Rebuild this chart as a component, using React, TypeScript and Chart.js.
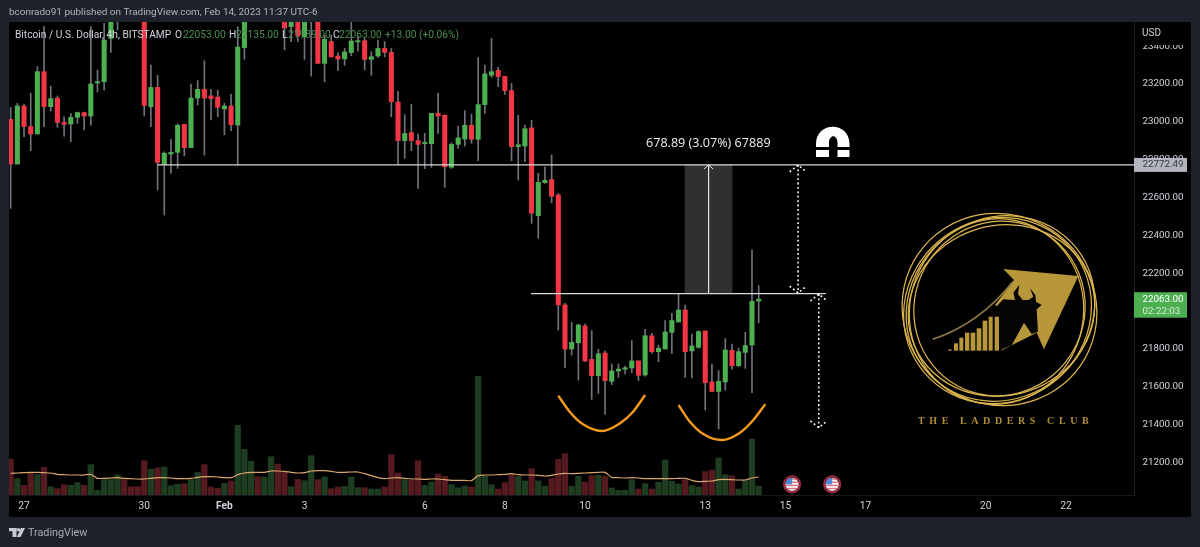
import React, { useEffect, useRef } from "react";
import { Chart, registerables } from "chart.js";

Chart.register(...registerables);

const FONT = 'Roboto, "Noto Sans", sans-serif';

const opens = [23013,22777,23084,22975,22936,23265,23080,23126,22997,22989,23024,23049,23031,23205,23212,23441,23570,23700,23620,23680,23620,23080,23182,22776,22830,22839,22987,22864,23126,23172,23137,23131,23068,23084,22983,23392,23590,23700,23640,23690,23800,23680,23503,23600,23450,23560,23700,23309,23424,23348,23332,23366,23422,23429,23330,23348,23388,23367,23105,22901,22943,22901,22885,22885,23045,23035,22760,22881,22909,22982,22908,23091,23246,23272,23241,23165,22869,22872,22968,22504,22679,22695,22614,22033,21800,21833,21922,21745,21659,21779,21629,21684,21693,21700,21737,21663,21870,21786,21800,21888,21943,22006,21790,21809,21895,21626,21576,21626,21793,21712,21782,21821,22053];
const highs = [23077,23098,23094,23151,23292,23503,23189,23137,23027,23045,23052,23052,23503,23274,23521,23626,23640,23750,23660,23710,23650,23300,23246,22842,22908,22989,22987,23200,23218,23323,23172,23168,23098,23145,23503,23630,23720,23720,23730,23830,23840,23710,23630,23630,23670,23740,23730,23459,23459,23365,23388,23538,23454,23441,23371,23432,23424,23388,23161,23038,23093,22936,22939,23045,23151,23035,22890,22978,23059,23041,23339,23300,23441,23288,23241,23203,23035,22983,23008,22728,22763,22825,22622,22041,21941,21932,21932,21897,21798,21791,21721,21721,21710,21844,21737,21904,21883,21821,21950,21988,22091,22032,21879,21897,21895,21721,21686,21855,21826,21804,21888,22323,22135];
const lows = [22543,22777,22922,22848,22936,22975,23057,22971,22925,22895,22992,22957,22982,23158,23168,23367,23485,23590,23560,23590,23031,22975,22640,22508,22728,22754,22820,22864,23089,22825,23010,23027,22931,22953,22772,23330,23560,23600,23600,23650,23600,23380,23424,23424,23330,23242,23309,23212,23343,23270,23299,23350,23374,23274,23246,23341,23344,23027,22772,22807,22848,22649,22753,22760,22939,22654,22754,22860,22872,22887,22795,23045,23235,23186,23145,22795,22693,22790,22464,22385,22675,22573,21900,21701,21768,21636,21733,21534,21566,21455,21612,21650,21668,21675,21633,21657,21777,21733,21800,21777,21943,21650,21647,21804,21478,21573,21377,21583,21693,21707,21698,21569,21939];
const closes = [22777,23084,22975,22936,23265,23080,23123,22997,22987,23024,23049,23031,23200,23212,23432,23591,23610,23620,23590,23620,23087,23182,22786,22834,22839,22982,22864,23126,23172,23126,23123,23077,23084,22985,23395,23591,23700,23640,23690,23800,23680,23496,23600,23454,23640,23700,23309,23436,23343,23332,23369,23427,23429,23330,23344,23388,23367,23107,22901,22939,22901,22881,22892,23045,23031,22763,22881,22915,22982,22908,23091,23253,23265,23239,23165,22869,22879,22964,22518,22681,22691,22607,22033,21800,21835,21927,21737,21659,21775,21633,21684,21694,21701,21737,21661,21870,21786,21804,21890,21950,22006,21786,21816,21892,21622,21576,21629,21795,21712,21786,21818,22052,22063];
const volumes = [108,49,29,68,61,83,25,19,31,29,37,29,91,14,46,46,60,46,25,25,103,77,81,84,28,32,34,46,68,91,24,20,35,42,209,137,101,55,54,115,93,68,25,47,43,118,46,54,19,24,26,54,22,22,18,18,24,121,66,46,44,103,29,39,63,56,31,22,27,24,356,56,31,18,37,61,56,42,79,42,26,49,107,124,26,56,39,58,59,56,21,14,14,46,18,34,18,38,105,41,33,46,28,24,70,75,111,61,58,18,43,168,26];
const volumeAverage = [65,66,67,68,68,67,66,62,61,60,60,60,62,50,50,51,52,50,49,48,48,50,52,52,51,49,49,50,53,55,55,54,52,52,61,66,68,68,68,72,72,71,68,66,67,72,73,73,71,68,68,69,69,64,58,52,49,51,52,50,48,48,47,48,48,46,44,44,44,43,58,60,60,61,62,64,61,60,60,59,57,59,63,65,64,65,66,67,68,68,53,52,51,52,51,49,49,49,49,49,50,50,44,40,41,42,46,47,46,45,45,51,54];

const priceTicks = [21200,21400,21600,21800,22000,22200,22400,22600,22800,23000,23200,23400];
const dayTickIndex = [2,20,32,44,62,74,86,104,116,128,146,158];
const dayTickLabels = ["27","30","Feb","3","6","8","10","13","15","17","20","22"];

const resistance = 22772.49;
const neckline = 22093;
const resistanceSpan = [22, 168.5];
const necklineSpan = [77.9, 122.05];
const measureIndex = 104.5;
const upperDottedIndex = 117.9;
const upperDottedEnds = [22772, 22096];
const lowerDottedIndex = 121;
const lowerDottedEnds = [22090, 21384];
const leftCupIndex = [82,83.7,85.7,88.5,91.2,93.2,95];
const leftCupPrice = [21553,21469,21402,21367,21407,21469,21557];
const rightCupIndex = [100,101.7,103.7,106.5,109.2,111.2,113];
const rightCupPrice = [21504,21416,21351,21319,21358,21425,21509];
const eventIndex = [117, 123];

const UP = "#4caf50";
const DOWN = "#f23645";
const UP_VOL = "#1e3d20";
const DOWN_VOL = "#551a20";

const idx = opens.map((_, i) => i);
const isUp = idx.map((i) => closes[i] >= opens[i]);

const pts = (xs: number[], ys: number[]) => xs.map((x, i) => ({ x, y: ys[i] }));

function vHead(x: number, tip: number, dir: number, halfWidth = 1.25, drop = 36) {
  return [
    { x: x - halfWidth, y: tip - dir * drop },
    { x, y: tip },
    { x: x + halfWidth, y: tip - dir * drop },
  ];
}

function lineDs(data: any[], color: string, width: number, order: number, extra: any = {}) {
  return {
    type: "line",
    data,
    borderColor: color,
    borderWidth: width,
    pointRadius: 0,
    order,
    xAxisID: "x",
    yAxisID: "y",
    ...extra,
  };
}

function drawFlag(ctx: CanvasRenderingContext2D, cx: number, cy: number) {
  ctx.save();
  ctx.beginPath();
  ctx.arc(cx, cy, 9, 0, Math.PI * 2);
  ctx.fillStyle = "#a92c43";
  ctx.fill();
  ctx.beginPath();
  ctx.arc(cx, cy, 7.2, 0, Math.PI * 2);
  ctx.fillStyle = "#2b1b22";
  ctx.fill();
  ctx.beginPath();
  ctx.arc(cx, cy, 6.6, 0, Math.PI * 2);
  ctx.clip();
  ctx.fillStyle = "#f4f4f6";
  ctx.fillRect(cx - 7, cy - 7, 14, 14);
  ctx.fillStyle = "#e2707e";
  for (let k = 0; k < 4; k++) ctx.fillRect(cx - 7, cy - 6 + k * 3.2, 14, 1.4);
  ctx.fillStyle = "#4a86d8";
  ctx.fillRect(cx - 7, cy - 7, 7, 7);
  ctx.restore();
}

function drawLogo(ctx: CanvasRenderingContext2D) {
  const cx = 999.5;
  const cy = 309.5;
  ctx.save();
  const rings = [
    [0, 0, 98.5, 95, 0.6],
    [-2, 1, 96, 91, -0.7],
    [1, -1, 90, 97, 0.9],
    [-3, 2, 87, 93, 0.2],
    [2, 1, 94, 85, -0.3],
    [0, -1, 85, 88, 0.5],
  ];
  ctx.strokeStyle = "#dcb44e";
  ctx.lineWidth = 1.25;
  for (const [dx, dy, rx, ry, rot] of rings) {
    ctx.beginPath();
    ctx.ellipse(cx + dx, cy + dy, rx, ry, rot, 0, Math.PI * 2);
    ctx.stroke();
  }
  const z = (a: number, b: number): [number, number] => [880 + a / 3, 190 + b / 3];
  const poly = (p: [number, number][], fill: string) => {
    ctx.beginPath();
    p.forEach(([a, b], i) => {
      const [x, y] = z(a, b);
      if (i) ctx.lineTo(x, y);
      else ctx.moveTo(x, y);
    });
    ctx.closePath();
    ctx.fillStyle = fill;
    ctx.fill();
  };
  const gold = "#b8963a";
  poly([[370,237],[595,258],[492,478],[470,428],[362,482],[420,390],[345,345],[402,270]], gold);
  ctx.beginPath();
  ctx.moveTo(...z(158, 448));
  ctx.quadraticCurveTo(...z(300, 400), ...z(398, 275));
  ctx.lineWidth = 1.6;
  ctx.strokeStyle = "#8f7a45";
  ctx.stroke();
  poly([[335,365],[370,328],[405,330],[400,308],[418,284],[414,312],[428,330],[446,330],[460,320],[450,295],[466,315],[468,335],[485,345],[470,358],[474,425],[455,432],[432,398],[395,466],[360,480],[340,480]], "#050505");
  const bars: [number, number, number][] = [[205,215,478],[222,234,460],[238,250,443],[255,268,428],[272,286,428],[290,304,415],[308,322,392],[326,338,380],[344,357,380]];
  ctx.fillStyle = gold;
  for (const [a, b, top] of bars) {
    const [x1, y1] = z(a, top);
    const [x2, y2] = z(b, 482);
    ctx.fillRect(x1, y1, x2 - x1, y2 - y1);
  }
  ctx.fillStyle = "#b08e3a";
  ctx.font = 'bold 10px "Liberation Serif", serif';
  ctx.textAlign = "left";
  ctx.textBaseline = "middle";
  (ctx as any).letterSpacing = "4.6px";
  ctx.fillText("THE LADDERS CLUB", 918, 421);
  (ctx as any).letterSpacing = "0px";
  ctx.restore();
}

function drawMagnet(ctx: CanvasRenderingContext2D) {
  ctx.save();
  ctx.fillStyle = "#ffffff";
  ctx.beginPath();
  ctx.moveTo(816, 147);
  ctx.lineTo(816, 144);
  ctx.bezierCurveTo(816, 121, 849.5, 121, 849.5, 144);
  ctx.lineTo(849.5, 147);
  ctx.lineTo(837.5, 147);
  ctx.lineTo(837.5, 143);
  ctx.bezierCurveTo(837.5, 134, 829, 134, 829, 143);
  ctx.lineTo(829, 147);
  ctx.closePath();
  ctx.fill();
  ctx.fillRect(816, 150, 13, 7);
  ctx.fillRect(837.5, 150, 12, 7);
  ctx.restore();
}

const overlayPlugin = {
  id: "overlay",
  beforeDraw(chart: any) {
    const { ctx, width, height } = chart;
    ctx.save();
    ctx.fillStyle = "#1e222d";
    ctx.fillRect(0, 0, width, height);
    ctx.fillStyle = "#000000";
    ctx.fillRect(9, 22, 1182, 495);
    ctx.restore();
  },
  afterDraw(chart: any) {
    const { ctx, scales } = chart;
    const py = scales.y;
    const px = scales.x;
    ctx.save();
    const text = (s: string, x: number, y: number, font: string, color: string, align = "left") => {
      ctx.font = font;
      ctx.fillStyle = color;
      ctx.textAlign = align;
      ctx.textBaseline = "middle";
      ctx.fillText(s, x, y);
    };
    text("bconrado91 published on TradingView.com, Feb 14, 2023 11:37 UTC-6", 9, 13, `9.95px ${FONT}`, "#b2b5be");
    const lf = `10.2px ${FONT}`;
    const white = "#d1d4dc";
    const green = "#4a8f50";
    text("Bitcoin / U.S. Dollar, 4h, BITSTAMP", 15, 35, lf, white);
    text("O", 175, 35, lf, white);
    text("22053.00", 183, 35, lf, green);
    text("H", 229, 35, lf, white);
    text("22135.00", 236, 35, lf, green);
    text("L", 282, 35, lf, white);
    text("21939.00", 288, 35, lf, green);
    text("C", 333, 35, lf, white);
    text("22063.00", 339, 35, lf, green);
    text("+13.00 (+0.06%)", 385, 35, lf, green);

    ctx.fillStyle = "#000000";
    ctx.fillRect(1135, 22, 56, 23);
    text("USD", 1142, 33, `10px ${FONT}`, white);
    const tf = `9.8px ${FONT}`;
    const rY = py.getPixelForValue(resistance);
    ctx.fillStyle = "#b2b5be";
    ctx.fillRect(1134, rY - 7, 53, 14);
    text(resistance.toFixed(2), 1142.5, rY, tf, "#363a45");
    const cY = py.getPixelForValue(closes[closes.length - 1]);
    ctx.fillStyle = UP;
    ctx.fillRect(1134, cY - 7, 53, 25.5);
    text(closes[closes.length - 1].toFixed(2), 1142.5, cY + 0.5, tf, "#ffffff");
    text("02:22:03", 1142.5, cY + 12, tf, "#d5ecd6");

    text("678.89 (3.07%) 67889", 646, 143, `500 12.6px "Open Sans", ${FONT}`, "#eeeeee");

    drawMagnet(ctx);
    drawLogo(ctx);
    eventIndex.forEach((i) => drawFlag(ctx, px.getPixelForValue(i), 484.3));

    ctx.fillStyle = "#c8cbd3";
    ctx.fillRect(9, 528, 7.5, 3.2);
    ctx.fillRect(12.5, 528, 4, 9);
    ctx.beginPath();
    ctx.arc(18.5, 529.7, 1.7, 0, Math.PI * 2);
    ctx.fill();
    ctx.beginPath();
    ctx.moveTo(21, 528);
    ctx.lineTo(25, 528);
    ctx.lineTo(20.5, 537);
    ctx.lineTo(16.8, 537);
    ctx.closePath();
    ctx.fill();
    text("TradingView", 28, 533, `10.8px ${FONT}`, "#a9acb5");
    ctx.restore();
  },
};

export default function App() {
  const ref = useRef<HTMLCanvasElement | null>(null);
  useEffect(() => {
    document.body.style.margin = "0";
    document.body.style.background = "#1e222d";
    if (!ref.current) return;
    const dotted = { borderDash: [1.8, 2.6] };
    const datasets: any[] = [
      {
        data: idx.map((i) => ({ x: i, y: volumes[i] })),
        backgroundColor: idx.map((i) => (isUp[i] ? UP_VOL : DOWN_VOL)),
        barThickness: 5.6,
        grouped: false,
        yAxisID: "yVol",
        xAxisID: "x",
        order: 12,
      },
      lineDs(idx.map((i) => ({ x: i, y: volumeAverage[i] })), "#d9a66c", 1.2, 11, { yAxisID: "yVol", tension: 0.2 }),
      {
        data: [{ x: measureIndex, y: [neckline, resistance] }],
        backgroundColor: "#303030",
        barThickness: 47,
        grouped: false,
        yAxisID: "y",
        xAxisID: "x",
        order: 10,
      },
      {
        data: idx.map((i) => ({ x: i, y: [lows[i], highs[i]] })),
        backgroundColor: "#70737c",
        barThickness: 1,
        grouped: false,
        yAxisID: "y",
        xAxisID: "x",
        order: 9,
      },
      {
        data: idx.map((i) => ({ x: i, y: [opens[i], closes[i]] })),
        backgroundColor: idx.map((i) => (isUp[i] ? UP : DOWN)),
        barThickness: 4.4,
        grouped: false,
        yAxisID: "y",
        xAxisID: "x",
        order: 8,
      },
      lineDs(pts(resistanceSpan, [resistance, resistance]), "#d8d8d8", 1.3, 6),
      lineDs(pts(necklineSpan, [neckline, neckline]), "#d8d8d8", 1.3, 6),
      lineDs(pts([measureIndex, measureIndex], [neckline, resistance]), "#e6e6e6", 1.2, 5),
      lineDs(vHead(measureIndex, resistance, 1, 0.7, 22), "#e6e6e6", 1, 5),
      lineDs(pts([upperDottedIndex, upperDottedIndex], upperDottedEnds), "#ffffff", 1.6, 5, dotted),
      lineDs(vHead(upperDottedIndex, upperDottedEnds[0], 1), "#ffffff", 1.6, 5, dotted),
      lineDs(vHead(upperDottedIndex, upperDottedEnds[1], -1), "#ffffff", 1.6, 5, dotted),
      lineDs(pts([lowerDottedIndex, lowerDottedIndex], lowerDottedEnds), "#ffffff", 1.6, 5, dotted),
      lineDs(vHead(lowerDottedIndex, lowerDottedEnds[0], 1), "#ffffff", 1.6, 5, dotted),
      lineDs(vHead(lowerDottedIndex, lowerDottedEnds[1], -1), "#ffffff", 1.6, 5, dotted),
      lineDs(pts(leftCupIndex, leftCupPrice), "#f59a1a", 2.4, 4, { cubicInterpolationMode: "monotone" }),
      lineDs(pts(rightCupIndex, rightCupPrice), "#f59a1a", 2.4, 4, { cubicInterpolationMode: "monotone" }),
    ];
    const chart = new Chart(ref.current, {
      type: "bar",
      data: { datasets },
      plugins: [overlayPlugin],
      options: {
        animation: false,
        responsive: false,
        devicePixelRatio: 1,
        events: [],
        layout: { padding: { left: 9, top: 22, right: 9, bottom: 30 } },
        plugins: { legend: { display: false }, tooltip: { enabled: false }, title: { display: false } },
        scales: {
          x: {
            type: "linear",
            offset: false,
            min: -0.25,
            max: 168.2,
            grid: { display: false, offset: false, drawTicks: false },
            border: { display: true, color: "#16181e" },
            afterBuildTicks: (s: any) => {
              s.ticks = dayTickIndex.map((value) => ({ value }));
            },
            afterFit: (s: any) => {
              s.height = 22;
            },
            ticks: {
              autoSkip: false,
              maxRotation: 0,
              padding: 5,
              color: "#d1d4dc",
              font: (c: any) => ({
                family: FONT,
                size: 10.2,
                weight: dayTickLabels[c.index] === "Feb" ? "bold" : "normal",
              }),
              callback: (_: any, i: number) => dayTickLabels[i],
            },
          },
          y: {
            type: "linear",
            position: "right",
            min: 21028.8,
            max: 23527.5,
            grid: { display: false, drawTicks: false },
            border: { display: true, color: "#1c1f26" },
            afterBuildTicks: (s: any) => {
              s.ticks = priceTicks.map((value) => ({ value }));
            },
            afterFit: (s: any) => {
              s.width = 57;
            },
            ticks: {
              color: "#d1d4dc",
              padding: 8.5,
              font: { family: FONT, size: 9.8 },
              callback: (v: any) => Number(v).toFixed(2),
            },
          },
          yVol: {
            type: "linear",
            display: false,
            min: 0,
            max: 1419,
          },
        },
      } as any,
    });
    return () => chart.destroy();
  }, []);
  return <canvas ref={ref} width={1200} height={547} style={{ display: "block", width: 1200, height: 547 }} />;
}
